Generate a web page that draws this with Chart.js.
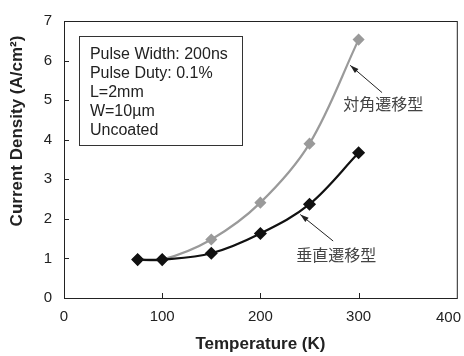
<!DOCTYPE html>
<html>
<head>
<meta charset="utf-8">
<script src="https://cdn.jsdelivr.net/npm/chart.js@4"></script>
<style>
  html, body { margin: 0; padding: 0; background: #fff; }
  #wrap { width: 464px; height: 356px; }
</style>
</head>
<body>
<div id="wrap"><canvas id="chartTemp"></canvas></div>
<script>
// 温度 (K)
const temps = [75, 100, 150, 200, 250, 300];
// 垂直遷移型 (黒)
const verticalJ = [0.97, 0.97, 1.13, 1.63, 2.37, 3.67];
// 対角遷移型 (灰)
const diagonalJ = [0.97, 0.97, 1.48, 2.41, 3.90, 6.53];
const xTicks = [0, 100, 200, 300, 400];
const yTicks = [0, 1, 2, 3, 4, 5, 6, 7];
const noteLines = ["Pulse Width: 200ns", "Pulse Duty: 0.1%", "L=2mm", "W=10\u00b5m", "Uncoated"];

const SANS = "'Liberation Sans', Arial, sans-serif";
const JP = "'Noto Sans CJK JP', sans-serif";

function arrow(ctx, x1, y1, x2, y2) {
  const a = Math.atan2(y2 - y1, x2 - x1);
  ctx.beginPath();
  ctx.moveTo(x1, y1);
  ctx.lineTo(x2, y2);
  ctx.stroke();
  ctx.beginPath();
  ctx.moveTo(x2, y2);
  ctx.lineTo(x2 - 9 * Math.cos(a - 0.3), y2 - 9 * Math.sin(a - 0.3));
  ctx.lineTo(x2 - 9 * Math.cos(a + 0.3), y2 - 9 * Math.sin(a + 0.3));
  ctx.closePath();
  ctx.fill();
}

const extras = {
  id: "extras",
  afterDraw(chart) {
    const { ctx, chartArea: a } = chart;
    const xs = chart.scales.x, ys = chart.scales.y;
    const px = v => xs.getPixelForValue(v);
    const py = v => ys.getPixelForValue(v);
    ctx.save();
    // 枠
    ctx.strokeStyle = "#222";
    ctx.lineWidth = 1;
    ctx.strokeRect(a.left + 0.5, a.top + 0.5, a.right - a.left, a.bottom - a.top);
    // 内向き目盛
    ctx.beginPath();
    xTicks.slice(1, -1).forEach(v => {
      const x = Math.round(px(v)) + 0.5;
      ctx.moveTo(x, a.bottom); ctx.lineTo(x, a.bottom - 5);
    });
    yTicks.slice(1, -1).forEach(v => {
      const y = Math.round(py(v)) + 0.5;
      ctx.moveTo(a.left, y); ctx.lineTo(a.left + 5, y);
    });
    ctx.stroke();

    // 400 label (shifted inside canvas)
    ctx.fillStyle = "#222";
    ctx.font = "15px " + SANS;
    ctx.textAlign = "right";
    ctx.textBaseline = "middle";
    ctx.fillText("400", 461, 318);

    // axis titles
    ctx.font = "bold 17px " + SANS;
    ctx.textAlign = "center";
    ctx.fillText("Temperature (K)", (a.left + a.right) / 2, 344);
    ctx.save();
    ctx.translate(17, 131);
    ctx.rotate(-Math.PI / 2);
    ctx.fillText("Current Density (A/cm\u00b2)", 0, 0);
    ctx.restore();

    // note box
    const bx1 = px(15.5), bx2 = px(181.4), by1 = py(6.63), by2 = py(3.88);
    ctx.fillStyle = "#fff";
    ctx.fillRect(bx1, by1, bx2 - bx1, by2 - by1);
    ctx.strokeStyle = "#333";
    ctx.strokeRect(Math.round(bx1) + 0.5, Math.round(by1) + 0.5, Math.round(bx2 - bx1), Math.round(by2 - by1));
    ctx.fillStyle = "#222";
    ctx.font = "16px " + SANS;
    ctx.textAlign = "left";
    noteLines.forEach((t, i) => ctx.fillText(t, px(26.4), py(6.156) + i * 19));

    // series labels and arrows
    ctx.lineWidth = 1;
    ctx.strokeStyle = "#222";
    ctx.fillStyle = "#222";
    arrow(ctx, px(323.9), py(5.19), px(291.4), py(5.88));
    arrow(ctx, px(274.1), py(1.44), px(240.6), py(2.11));
    ctx.font = "16px " + JP;
    ctx.fillStyle = "#444";
    ctx.fillText("対角遷移型", px(284.3), py(4.90));
    ctx.fillText("垂直遷移型", px(236.5), py(1.09));
    ctx.restore();
  }
};

new Chart(document.getElementById("chartTemp"), {
  type: "line",
  data: {
    labels: temps,
    datasets: [
      {
        label: "垂直遷移型",
        data: temps.map((t, i) => ({ x: t, y: verticalJ[i] })),
        borderColor: "#111",
        backgroundColor: "#111",
        borderWidth: 2.2,
        pointStyle: "rectRot",
        pointRadius: 5,
        tension: 0.35
      },
      {
        label: "対角遷移型",
        data: temps.map((t, i) => ({ x: t, y: diagonalJ[i] })),
        borderColor: "#9a9a9a",
        backgroundColor: "#9a9a9a",
        borderWidth: 2.2,
        pointStyle: "rectRot",
        pointRadius: 4.5,
        tension: 0.35
      }
    ]
  },
  options: {
    responsive: true,
    maintainAspectRatio: false,
    animation: false,
    layout: { padding: { top: 16, right: 6 } },
    plugins: { legend: { display: false }, tooltip: { enabled: false } },
    scales: {
      x: {
        type: "linear",
        min: 0, max: 400,
        grid: { display: false, drawTicks: false },
        border: { display: true, color: "#222" },
        ticks: {
          stepSize: 100,
          padding: 10,
          color: "#222",
          font: { family: SANS, size: 15 },
          callback: v => (v === 400 ? "" : v)
        },
        afterFit(s) { s.height = 58; s.paddingRight = 0; }
      },
      y: {
        min: 0, max: 7,
        grid: { display: false, drawTicks: false },
        border: { display: true, color: "#222" },
        ticks: {
          stepSize: 1,
          padding: 12,
          color: "#222",
          font: { family: SANS, size: 15 }
        },
        afterFit(s) { s.width = 64; }
      }
    }
  },
  plugins: [extras]
});
</script>
</body>
</html>
